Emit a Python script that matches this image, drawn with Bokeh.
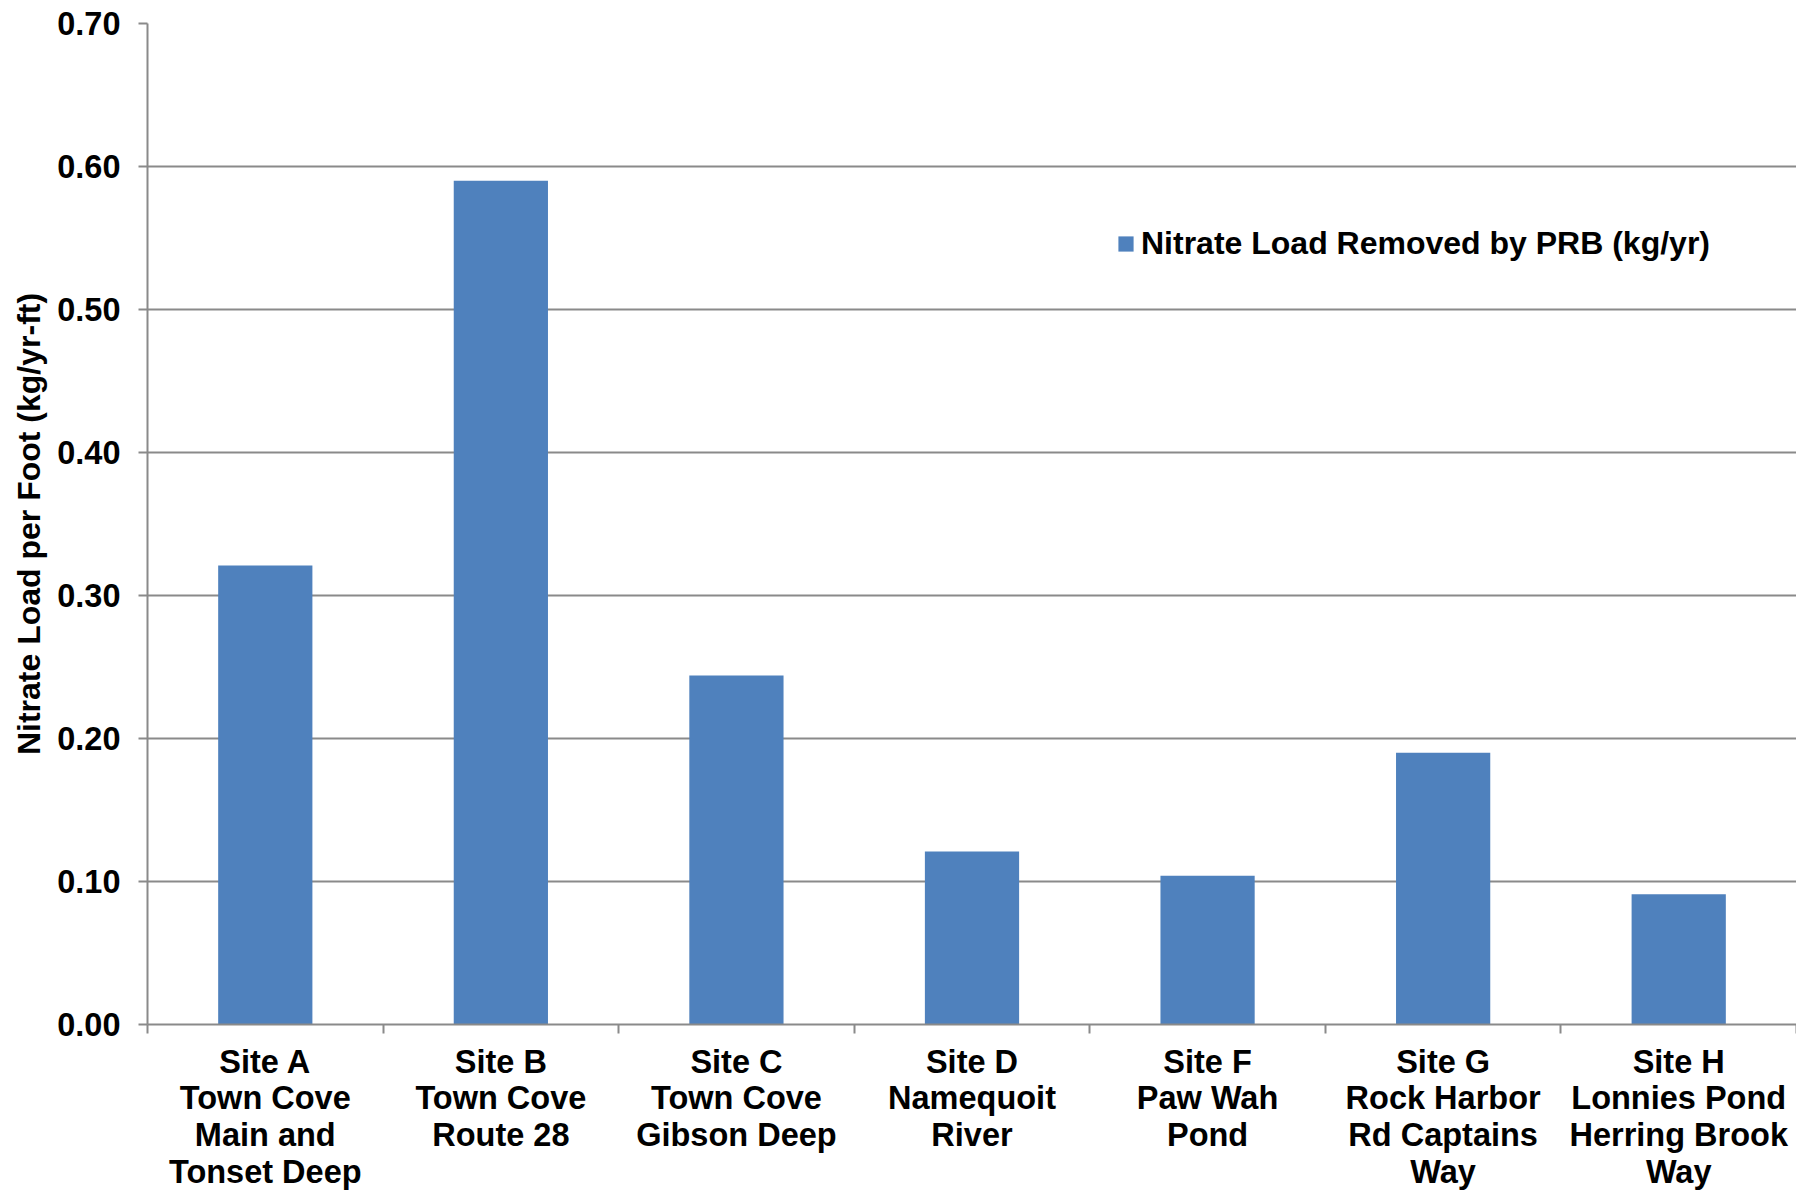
from bokeh.plotting import figure
from bokeh.models import Range1d, FixedTicker, NumeralTickFormatter, Legend, LegendItem, ColumnDataSource
from bokeh.embed import file_html
from bokeh.resources import INLINE

# ---- data ----
site_labels = [
    "Site A\nTown Cove\nMain and\nTonset Deep",
    "Site B\nTown Cove\nRoute 28",
    "Site C\nTown Cove\nGibson Deep",
    "Site D\nNamequoit\nRiver",
    "Site F\nPaw Wah\nPond",
    "Site G\nRock Harbor\nRd Captains\nWay",
    "Site H\nLonnies Pond\nHerring Brook\nWay",
]
nitrate_per_foot = [0.321, 0.590, 0.244, 0.121, 0.104, 0.190, 0.091]
y_ticks = [0.0, 0.1, 0.2, 0.3, 0.4, 0.5, 0.6, 0.7]
series_name = "Nitrate Load Removed by PRB (kg/yr)"
y_title = "Nitrate Load per Foot (kg/yr-ft)"

FONT = "Liberation Sans"
FS = "32.5px"
GRAY = "#8a8a8a"
BAR = "#4F81BD"

n = len(site_labels)
centers = [i + 0.5 for i in range(n)]
src = ColumnDataSource(dict(x=centers, top=nitrate_per_foot))

p = figure(
    output_backend="svg", toolbar_location=None,
    frame_width=1649, frame_height=1001,
    min_border_left=147, min_border_right=0, min_border_top=23, min_border_bottom=150,
    x_range=Range1d(0, n), y_range=Range1d(0, 0.7),
    background_fill_color="white", border_fill_color="white",
)
p.outline_line_color = None

r = p.vbar(x="x", top="top", width=0.4, bottom=0, source=src,
           fill_color=BAR, line_color=None)

# x axis
xa = p.xaxis[0]
xa.ticker = FixedTicker(ticks=centers, minor_ticks=list(range(n + 1)))
xa.major_label_overrides = {c: lab for c, lab in zip(centers, site_labels)}
xa.major_tick_out = 0
xa.major_tick_in = 0
xa.minor_tick_out = 9
xa.minor_tick_in = 0
xa.minor_tick_line_color = GRAY
xa.minor_tick_line_width = 2
xa.axis_line_color = GRAY
xa.axis_line_width = 2
xa.major_label_standoff = 10
xa.major_label_text_font = FONT
xa.major_label_text_font_style = "bold"
xa.major_label_text_font_size = FS
xa.major_label_text_color = "black"
xa.major_label_text_line_height = 1.02

# y axis
ya = p.yaxis[0]
ya.ticker = FixedTicker(ticks=y_ticks)
ya.formatter = NumeralTickFormatter(format="0.00")
ya.major_tick_out = 9
ya.major_tick_in = 0
ya.minor_tick_out = 0
ya.minor_tick_in = 0
ya.major_tick_line_color = GRAY
ya.major_tick_line_width = 2
ya.axis_line_color = GRAY
ya.axis_line_width = 2
ya.major_label_standoff = 18
ya.major_label_text_font = FONT
ya.major_label_text_font_style = "bold"
ya.major_label_text_font_size = FS
ya.major_label_text_color = "black"
ya.axis_label = y_title
ya.axis_label_text_font = FONT
ya.axis_label_text_font_style = "bold"
ya.axis_label_text_font_size = "32px"
ya.axis_label_text_color = "black"
ya.axis_label_standoff = 7

p.xgrid.grid_line_color = None
p.ygrid.ticker = FixedTicker(ticks=y_ticks)
p.ygrid.grid_line_color = GRAY
p.ygrid.grid_line_width = 2

legend = Legend(items=[LegendItem(label=series_name, renderers=[r])],
                location=(969, 762), orientation="vertical")
legend.label_text_font = FONT
legend.label_text_font_style = "bold"
legend.label_text_font_size = "32px"
legend.label_text_color = "black"
legend.glyph_width = 19
legend.glyph_height = 19
legend.label_standoff = 6
legend.padding = 0
legend.margin = 0
legend.border_line_color = None
legend.background_fill_alpha = 0
p.add_layout(legend)

open("out.html", "w").write(file_html(p, INLINE))
